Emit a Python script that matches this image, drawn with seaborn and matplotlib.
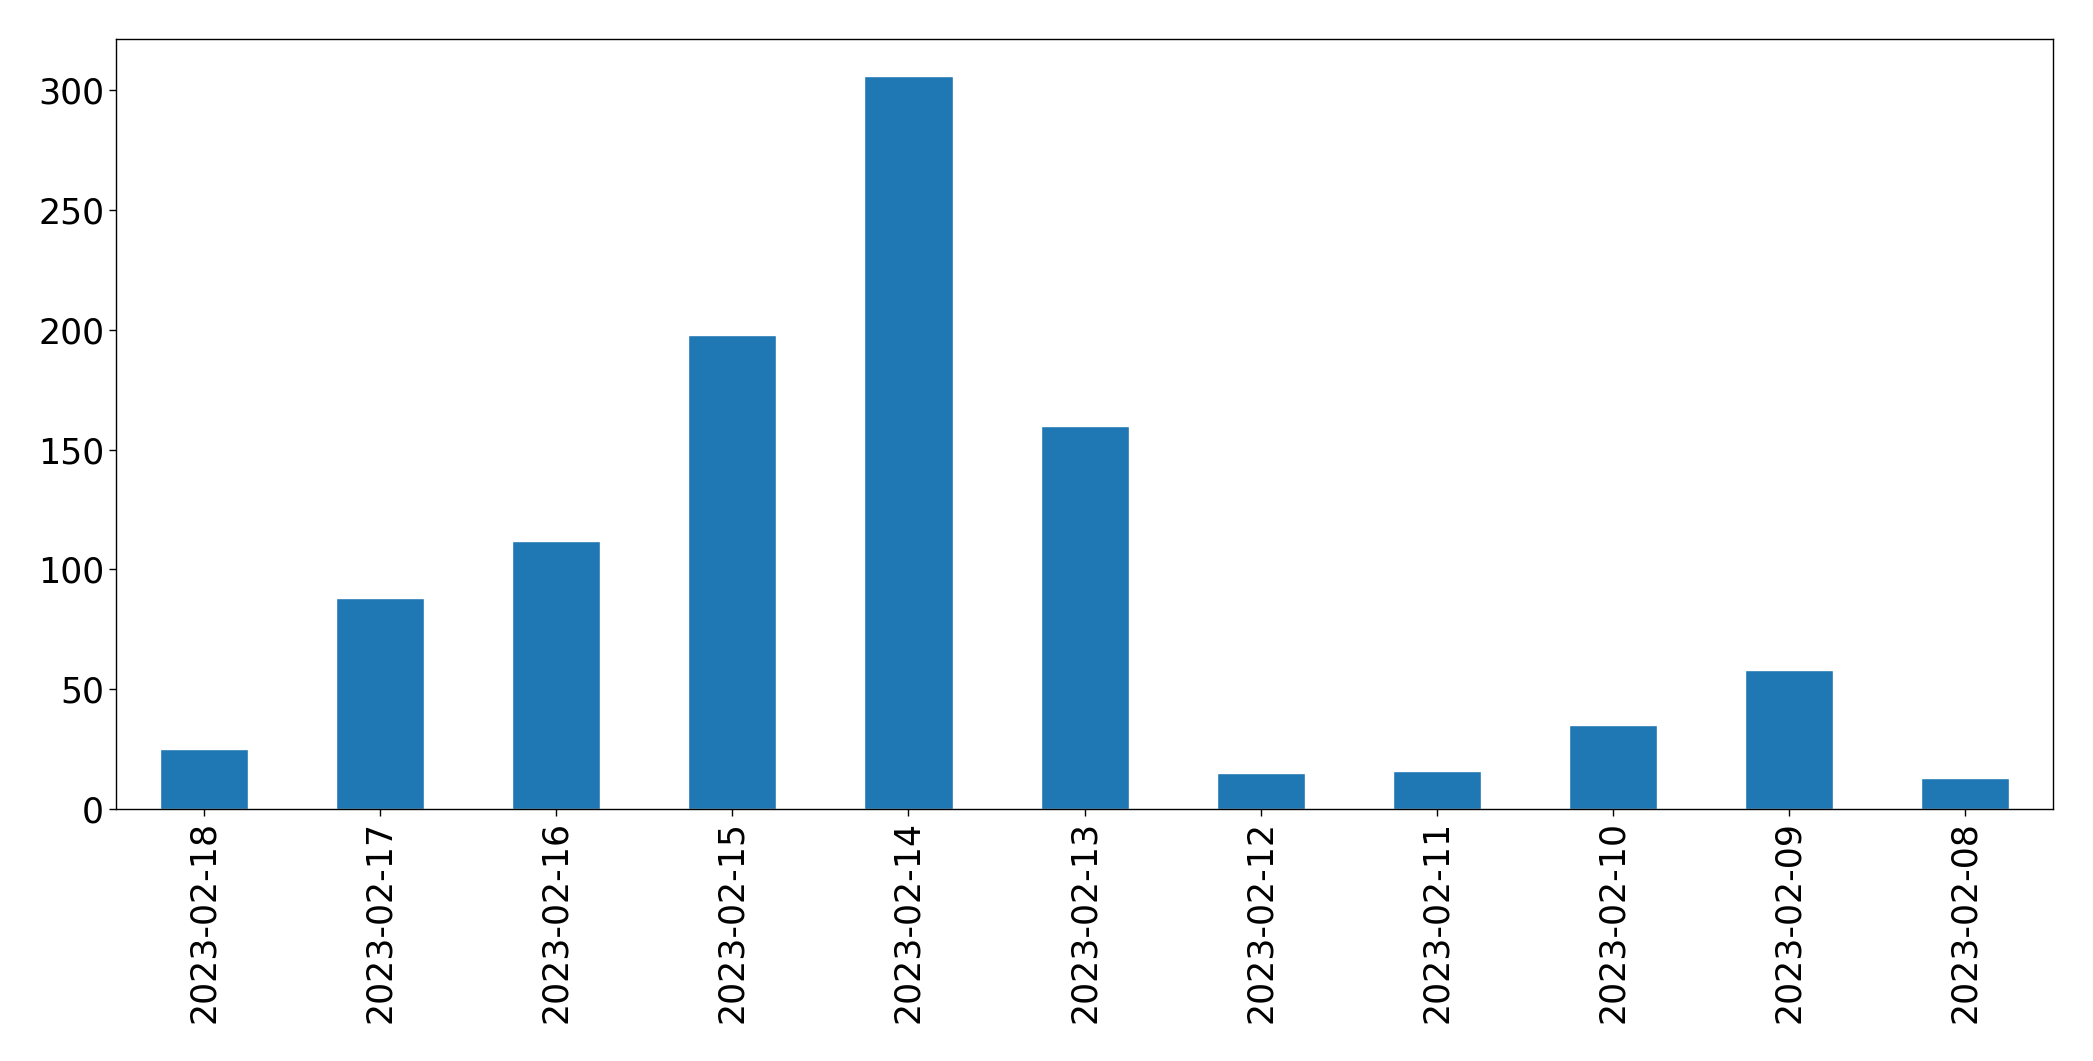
import numpy as np
import pandas as pd
import matplotlib
matplotlib.use("Agg")
import matplotlib.pyplot as plt
import seaborn as sns

dates = ["2023-02-18", "2023-02-17", "2023-02-16", "2023-02-15", "2023-02-14", "2023-02-13",
         "2023-02-12", "2023-02-11", "2023-02-10", "2023-02-09", "2023-02-08"]
counts = [25, 88, 112, 198, 306, 160, 15, 16, 35, 58, 13]

df = pd.DataFrame({"date": dates, "count": counts})

sns.set_style("white")
plt.rcParams['font.family'] = ['DejaVu Sans']

fig = plt.figure(figsize=(20.93, 10.61), dpi=100)
ax = fig.add_axes([0.0554, 0.2375, 0.9256, 0.7255])
sns.barplot(data=df, x="date", y="count", color="#1f77b4", saturation=1, width=0.5, ax=ax)

ax.set_xlim(-0.5, len(dates) - 0.5)
ax.set_xlabel("")
ax.set_ylabel("")
ax.set_yticks([0, 50, 100, 150, 200, 250, 300])
ax.tick_params(axis="both", labelsize=25, length=5, width=1, color="black", labelcolor="black",
               direction="out", bottom=True, left=True)
ax.tick_params(axis="x", labelrotation=90)
for s in ax.spines.values():
    s.set_color("black")
    s.set_linewidth(1)

fig.savefig("out.png", dpi=100)
